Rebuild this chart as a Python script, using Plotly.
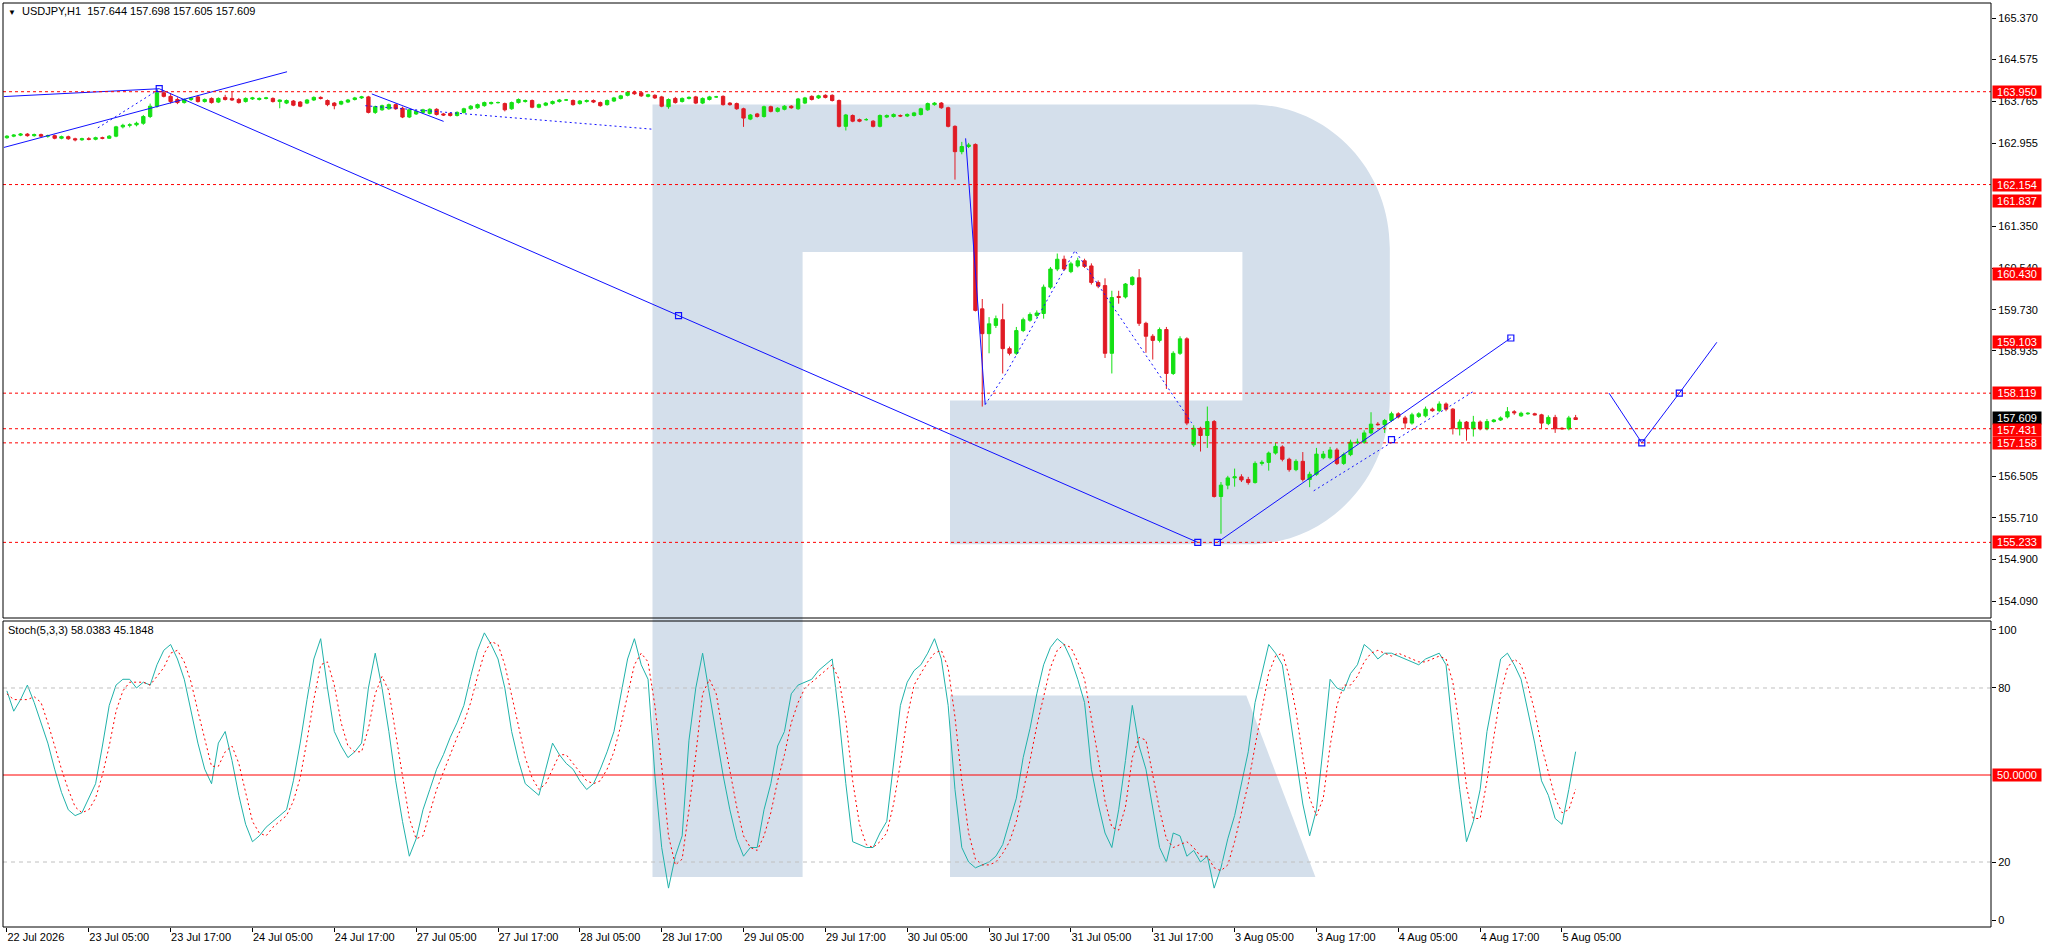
import numpy as np
import plotly.graph_objects as go

# USDJPY H1 with Stochastic(5,3,3), MT4 style

FONT = "Liberation Sans, Arial, sans-serif"
GREEN = "#14e014"
RED = "#e01b24"
BLUE = "#1010ff"
LOGO = "#d4dfeb"

# hourly candles, 22 Jul 17:00 .. 5 Aug 07:00
o = [163.06,163.09,163.11,163.13,163.10,163.12,163.09,163.10,163.05,163.08,
     163.04,163.02,163.04,163.03,163.06,163.05,163.09,163.27,163.30,163.31,
     163.34,163.47,163.67,163.93,163.86,163.80,163.74,163.80,163.85,163.76,
     163.82,163.75,163.84,163.82,163.80,163.76,163.81,163.80,163.82,163.82,
     163.76,163.73,163.77,163.75,163.73,163.79,163.84,163.78,163.73,163.71,
     163.75,163.80,163.83,163.85,163.55,163.60,163.62,163.70,163.63,163.46,
     163.52,163.55,163.53,163.61,163.52,163.53,163.49,163.55,163.62,163.64,
     163.68,163.72,163.74,163.72,163.62,163.74,163.76,163.78,163.65,163.69,
     163.72,163.76,163.79,163.78,163.72,163.76,163.78,163.74,163.70,163.77,
     163.82,163.88,163.94,163.93,163.86,163.88,163.85,163.66,163.82,163.76,
     163.82,163.85,163.73,163.80,163.85,163.86,163.73,163.72,163.62,163.42,
     163.52,163.47,163.66,163.57,163.61,163.67,163.62,163.73,163.86,163.83,
     163.88,163.88,163.78,163.28,163.49,163.41,163.41,163.38,163.28,163.46,
     163.47,163.49,163.48,163.49,163.51,163.60,163.70,163.73,163.64,163.28,
     162.79,162.89,162.93,159.75,159.27,159.43,159.54,158.98,158.89,159.33,
     159.53,159.62,159.66,160.17,160.52,160.71,160.47,160.58,160.68,160.58,
     160.26,160.20,158.89,159.99,159.98,160.22,160.35,159.47,159.22,159.14,
     159.35,158.50,158.89,159.17,157.12,157.44,157.30,157.57,156.12,156.34,
     156.48,156.50,156.45,156.39,156.76,156.78,156.96,157.08,156.84,156.64,
     156.80,156.45,156.55,156.87,156.87,157.02,156.76,156.93,157.16,157.17,
     157.35,157.52,157.51,157.59,157.72,157.64,157.54,157.67,157.68,157.81,
     157.78,157.91,157.81,157.43,157.56,157.43,157.56,157.43,157.57,157.60,
     157.66,157.76,157.68,157.72,157.72,157.70,157.53,157.65,157.44,157.43,
     157.644]
h = [163.11,163.13,163.15,163.15,163.14,163.14,163.12,163.12,163.10,163.10,
     163.06,163.06,163.07,163.08,163.08,163.11,163.29,163.33,163.34,163.37,
     163.50,163.72,164.00,163.97,163.92,163.84,163.82,163.85,163.88,163.82,
     163.84,163.84,163.89,163.95,163.83,163.84,163.85,163.84,163.85,163.84,
     163.80,163.80,163.79,163.77,163.81,163.86,163.86,163.80,163.75,163.78,
     163.81,163.85,163.87,163.87,163.68,163.70,163.72,163.72,163.66,163.62,
     163.59,163.62,163.63,163.63,163.54,163.55,163.57,163.64,163.69,163.72,
     163.76,163.76,163.76,163.74,163.76,163.82,163.80,163.80,163.72,163.75,
     163.78,163.81,163.81,163.80,163.79,163.80,163.80,163.76,163.80,163.85,
     163.89,163.96,163.97,163.95,163.91,163.90,163.87,163.82,163.85,163.84,
     163.86,163.87,163.84,163.87,163.87,163.88,163.75,163.74,163.64,163.52,
     163.54,163.68,163.68,163.65,163.69,163.69,163.83,163.85,163.88,163.89,
     163.90,163.90,163.80,163.52,163.51,163.43,163.44,163.40,163.51,163.51,
     163.53,163.51,163.53,163.56,163.64,163.74,163.75,163.75,163.66,163.30,
     162.98,162.96,162.95,159.94,159.59,159.62,159.85,159.02,159.40,159.58,
     159.68,159.72,160.22,160.56,160.82,160.78,160.66,160.74,160.72,160.63,
     160.30,160.34,160.10,160.10,160.25,160.38,160.52,159.50,159.26,159.39,
     159.40,158.93,159.22,159.20,157.50,157.47,157.86,157.60,156.40,156.52,
     156.66,156.55,156.50,156.80,156.82,156.99,157.16,157.11,156.87,156.84,
     156.98,156.60,157.06,157.00,157.08,157.06,156.97,157.22,157.24,157.40,
     157.75,157.56,157.62,157.76,157.75,157.68,157.74,157.75,157.86,157.84,
     157.96,157.94,157.83,157.61,157.58,157.68,157.59,157.62,157.62,157.67,
     157.85,157.79,157.76,157.75,157.74,157.72,157.69,157.70,157.46,157.68,
     157.698]
l = [163.04,163.07,163.09,163.08,163.08,163.07,163.06,163.03,163.03,163.02,
     162.99,163.00,163.01,163.01,163.03,163.04,163.07,163.24,163.26,163.28,
     163.31,163.44,163.64,163.84,163.72,163.71,163.72,163.77,163.74,163.74,
     163.72,163.73,163.78,163.77,163.72,163.74,163.79,163.78,163.80,163.74,
     163.63,163.71,163.67,163.65,163.71,163.77,163.80,163.67,163.61,163.69,
     163.73,163.78,163.81,163.53,163.52,163.58,163.60,163.60,163.44,163.44,
     163.50,163.53,163.51,163.49,163.48,163.47,163.47,163.53,163.60,163.62,
     163.66,163.70,163.72,163.57,163.60,163.72,163.74,163.63,163.63,163.67,
     163.70,163.74,163.77,163.68,163.70,163.74,163.73,163.66,163.68,163.75,
     163.80,163.86,163.89,163.85,163.84,163.81,163.65,163.62,163.72,163.74,
     163.80,163.71,163.71,163.78,163.83,163.68,163.68,163.60,163.27,163.40,
     163.45,163.45,163.55,163.55,163.59,163.62,163.60,163.71,163.78,163.81,
     163.82,163.76,163.26,163.20,163.36,163.36,163.39,163.26,163.26,163.44,
     163.45,163.46,163.46,163.47,163.49,163.58,163.68,163.62,163.26,162.25,
     162.74,162.86,159.70,157.86,158.89,159.38,158.50,158.85,158.86,159.30,
     159.50,159.58,159.56,160.13,160.48,160.49,160.44,160.55,160.54,160.22,
     160.15,158.80,158.50,159.85,159.95,160.20,159.42,158.90,158.77,159.10,
     158.20,158.47,158.86,157.50,157.08,156.99,157.06,156.10,155.40,156.26,
     156.31,156.40,156.35,156.37,156.72,156.62,156.93,156.80,156.60,156.61,
     156.41,156.30,156.52,156.84,156.84,156.73,156.73,156.90,157.13,157.14,
     157.32,157.49,157.35,157.56,157.63,157.43,157.51,157.64,157.65,157.76,
     157.75,157.77,157.32,157.30,157.20,157.28,157.40,157.40,157.55,157.58,
     157.63,157.70,157.66,157.70,157.69,157.44,157.50,157.35,157.41,157.40,
     157.605]
c = [163.09,163.11,163.13,163.10,163.12,163.09,163.10,163.05,163.08,163.04,
     163.02,163.04,163.03,163.06,163.05,163.09,163.27,163.30,163.31,163.34,
     163.47,163.67,163.93,163.86,163.76,163.74,163.80,163.83,163.76,163.80,
     163.74,163.82,163.80,163.79,163.74,163.82,163.83,163.82,163.83,163.76,
     163.79,163.78,163.69,163.67,163.79,163.84,163.82,163.70,163.68,163.76,
     163.79,163.83,163.85,163.55,163.66,163.68,163.70,163.62,163.46,163.60,
     163.57,163.60,163.61,163.51,163.50,163.49,163.55,163.62,163.67,163.70,
     163.74,163.74,163.74,163.60,163.74,163.80,163.78,163.65,163.70,163.73,
     163.76,163.79,163.79,163.70,163.77,163.78,163.75,163.68,163.78,163.83,
     163.87,163.94,163.91,163.87,163.89,163.83,163.67,163.80,163.74,163.82,
     163.84,163.73,163.82,163.85,163.85,163.70,163.70,163.62,163.44,163.50,
     163.47,163.66,163.57,163.63,163.67,163.64,163.81,163.83,163.80,163.87,
     163.84,163.78,163.28,163.50,163.38,163.38,163.41,163.28,163.49,163.49,
     163.51,163.48,163.51,163.54,163.62,163.72,163.73,163.64,163.28,162.79,
     162.89,162.92,159.72,159.27,159.46,159.56,158.98,158.89,159.33,159.54,
     159.64,159.67,160.17,160.52,160.71,160.52,160.62,160.68,160.57,160.26,
     160.19,158.89,159.97,159.97,160.23,160.36,159.47,159.22,159.14,159.35,
     158.50,158.89,159.17,157.54,157.44,157.30,157.57,156.12,156.34,156.48,
     156.50,156.44,156.39,156.76,156.78,156.96,157.09,156.84,156.64,156.80,
     156.45,156.55,156.94,156.94,157.02,156.76,156.93,157.17,157.17,157.35,
     157.52,157.51,157.59,157.72,157.66,157.54,157.70,157.72,157.81,157.78,
     157.91,157.81,157.44,157.56,157.43,157.56,157.43,157.57,157.60,157.64,
     157.76,157.74,157.73,157.73,157.70,157.54,157.65,157.43,157.43,157.64,
     157.609]

# Stochastic %K (main) and %D (signal)
stoch_k = [79,72,76,81,75,68,61,52,44,38, 36,37,42,47,60,74,81,83,83,80,
           82,81,88,93,95,90,83,72,61,52, 47,61,65,55,43,33,27,29,32,34,
           36,38,48,61,76,90,97,80,65,60, 56,58,61,80,92,80,65,48,34,22,
           28,38,45,52,57,63,68,74,84,93, 99,95,90,80,65,55,47,45,43,52,
           61,57,54,52,48,45,47,52,58,65, 78,90,97,88,83,50,25,11,22,29,
           62,80,92,78,65,50,38,28,22,25, 25,38,47,60,65,78,81,82,83,86,
           88,90,70,47,27,26,25,25,30,34, 55,74,82,86,88,92,97,90,74,45,
           25,20,18,19,20,22,26,34,42,56, 66,78,88,94,97,95,90,83,75,52,
           40,30,25,38,55,74,60,52,38,25, 20,30,29,22,24,20,22,11,18,28,
           36,47,58,75,85,95,92,88,72,56, 40,29,38,60,83,80,79,85,88,95,
           93,90,92,92,91,90,89,88,90,91, 92,88,65,45,27,34,45,65,78,90,
           92,88,83,72,61,48,43,35,33,45, 58.0383]
stoch_d = [78,76,76,76,77,75,68,60,52,45, 39,37,38,42,50,60,72,79,82,82,
           82,81,84,87,92,93,89,82,72,62, 53,53,58,60,54,44,34,30,29,32,
           34,36,41,49,62,76,88,89,81,68, 60,58,58,66,78,84,79,64,49,35,
           28,29,37,45,51,57,63,68,75,84, 92,96,95,88,78,67,56,49,45,47,
           52,57,57,54,51,48,47,48,52,58, 67,78,88,92,89,74,53,29,19,21,
           38,57,78,83,78,64,51,39,29,25, 24,29,37,48,57,68,75,80,82,84,
           86,88,83,69,48,33,26,25,27,30, 40,54,70,81,85,89,92,93,87,70,
           48,30,21,19,19,20,23,27,34,44, 55,67,77,87,93,95,94,89,83,70,
           56,41,32,31,39,56,63,62,50,38, 28,25,26,27,25,22,22,18,17,19,
           27,37,47,60,73,85,91,92,84,72, 56,42,36,42,60,74,81,81,84,89,
           92,93,92,91,92,91,90,89,89,90, 91,90,82,66,46,35,35,48,63,78,
           87,90,88,81,72,60,51,42,37,38, 45.1848]

tick_idx = [0,12,24,36,48,60,72,84,96,108,120,132,144,156,168,180,192,204,216,228]
tick_txt = ["22 Jul 2026","23 Jul 05:00","23 Jul 17:00","24 Jul 05:00","24 Jul 17:00",
            "27 Jul 05:00","27 Jul 17:00","28 Jul 05:00","28 Jul 17:00","29 Jul 05:00",
            "29 Jul 17:00","30 Jul 05:00","30 Jul 17:00","31 Jul 05:00","31 Jul 17:00",
            "3 Aug 05:00","3 Aug 17:00","4 Aug 05:00","4 Aug 17:00","5 Aug 05:00"]
# scale values left visible (162.150, 158.120, 157.315 sit fully under the price tags)
price_ticks = [165.370,164.575,163.765,162.955,161.350,160.540,159.730,
               158.935,156.505,155.710,154.900,154.090]
stoch_ticks = [0,20,80,100]

level_lines = [163.950,162.154,158.119,157.431,157.158,155.233]
red_tags = [163.950,162.154,161.837,160.430,159.103,158.119,157.158,155.233]
tag_431 = 157.431
last_close = 157.609

# analyst drawings (bar index, price)
solid_lines = [
    ([-0.44,22.33],[163.856,164.008]),
    ([-0.44,41.07],[162.872,164.336]),
    ([22.33,174.6],[164.008,155.233]),
    ([53.5,64.03],[163.907,163.376]),
    ([140.56,143.43],[163.048,157.899]),
    ([177.47,220.5],[155.233,159.186]),
    ([234.9,239.7,245.2,250.7],[158.119,157.158,158.119,159.103]),
]
dotted_lines = [
    ([13.33,22.13],[163.250,163.982]),
    ([52.55,94.65],[163.679,163.225]),
    ([143.43,146.5,156.6,173.7],[157.899,158.505,160.877,157.545]),
    ([191.6,215.0],[156.23,158.15]),
]
mark_x = [22.33,98.47,174.6,177.47,203.0,220.5,239.7,245.2]
mark_y = [164.008,159.62,155.233,155.233,157.22,159.186,157.158,158.119]

# page geometry (px)
W, H = 2046, 948
PL, PR, PT, PB = 3, 1991, 3, 927
MAIN_BOT, STOCH_TOP = 618, 621
main_dom = [(PB - MAIN_BOT) / (PB - PT), 1]
stoch_dom = [0, (PB - STOCH_TOP) / (PB - PT)]


def px(xp, yp):
    return (xp - PL) / (PR - PL), (PB - yp) / (PB - PT)


def path(cmds):
    # one command letter per segment, plotly only maps the first pair otherwise
    out = []
    for cmd, pts in cmds:
        if cmd == "C":
            out.append("C " + " ".join("%.5f %.5f" % px(*p) for p in pts))
        else:
            for p in pts:
                out.append("%s %.5f %.5f" % ((cmd,) + px(*p)))
    return " ".join(out) + " Z"


idx = np.arange(len(c))

fig = go.Figure()
fig.add_trace(go.Candlestick(
    x=idx, open=o, high=h, low=l, close=c,
    increasing=dict(line=dict(color=GREEN, width=1), fillcolor=GREEN),
    decreasing=dict(line=dict(color=RED, width=1), fillcolor=RED),
    whiskerwidth=0, showlegend=False, hoverinfo="skip"))

for xs, ys in solid_lines:
    fig.add_trace(go.Scatter(x=xs, y=ys, mode="lines", line=dict(color=BLUE, width=1),
                             showlegend=False, hoverinfo="skip"))
for xs, ys in dotted_lines:
    fig.add_trace(go.Scatter(x=xs, y=ys, mode="lines", line=dict(color=BLUE, width=1, dash="2px,3px"),
                             showlegend=False, hoverinfo="skip"))
fig.add_trace(go.Scatter(x=mark_x, y=mark_y, mode="markers",
                         marker=dict(symbol="square-open", size=6, color=BLUE, line=dict(width=1.2)),
                         showlegend=False, hoverinfo="skip"))

fig.add_trace(go.Scatter(x=idx, y=stoch_k, yaxis="y2", mode="lines",
                         line=dict(color="#20b2aa", width=1), showlegend=False, hoverinfo="skip"))
fig.add_trace(go.Scatter(x=idx, y=stoch_d, yaxis="y2", mode="lines",
                         line=dict(color="#ff0000", width=1, dash="2px,3px"), showlegend=False, hoverinfo="skip"))

shapes = []
# watermark logo
bowl = path([
    ("M", [(652.5, 104.4)]), ("L", [(1250.2, 104.4)]),
    ("C", [(1327.3, 104.4), (1389.8, 168.6), (1389.8, 248.0)]),
    ("L", [(1389.8, 398.0)]),
    ("C", [(1389.8, 478.8), (1327.3, 544.2), (1250.2, 544.2)]),
    ("L", [(950.0, 544.2), (950.0, 400.6), (1242.4, 400.6), (1242.4, 251.9),
           (802.6, 251.9), (802.6, 877.0), (652.5, 877.0)]),
])
leg = path([("M", [(950.0, 695.6)]), ("L", [(1246.3, 695.6), (1315.4, 877.0), (950.0, 877.0)])])
for p in (bowl, leg):
    shapes.append(dict(type="path", path=p, xref="paper", yref="paper", layer="below",
                       fillcolor=LOGO, line=dict(width=0)))

for v in level_lines:
    shapes.append(dict(type="line", xref="paper", x0=0, x1=1, yref="y", y0=v, y1=v,
                       line=dict(color="#ff0000", width=1, dash="3px,3px")))
for v in (80, 20):
    shapes.append(dict(type="line", xref="paper", x0=0, x1=1, yref="y2", y0=v, y1=v,
                       line=dict(color="#c0c0c0", width=1, dash="4px,4px")))
shapes.append(dict(type="line", xref="paper", x0=0, x1=1, yref="y2", y0=50, y1=50,
                   line=dict(color="#ff0000", width=1)))
for dom in (main_dom, stoch_dom):
    shapes.append(dict(type="rect", xref="paper", yref="paper", x0=0, x1=1, y0=dom[0], y1=dom[1],
                       line=dict(color="black", width=1), layer="above"))


def tag(v, bg, yref="y", txt=None, shift=0):
    return dict(x=1, xref="paper", xanchor="left", xshift=1, y=v, yref=yref, yanchor="middle",
                yshift=shift, text=txt or "%.3f" % v, showarrow=False, bgcolor=bg,
                font=dict(color="white", size=11, family=FONT),
                width=46, height=10, borderpad=1, align="center")


ann = [tag(v, "#ff0000") for v in red_tags]
ann.append(tag(last_close, "black", shift=2))
ann.append(tag(tag_431, "#ff0000", shift=-1))
ann.append(tag(50, "#ff0000", "y2", "50.0000"))
ann.append(dict(x=px(6, 0)[0], xref="paper", xanchor="left", y=px(0, 11)[1], yref="paper",
                yanchor="middle", showarrow=False,
                text="<span style='font-size:8px'>▼</span>&nbsp;&nbsp;USDJPY,H1&nbsp;&nbsp;157.644 157.698 157.605 157.609",
                font=dict(color="black", size=11, family=FONT)))
ann.append(dict(x=px(6, 0)[0], xref="paper", xanchor="left", y=px(0, 630)[1], yref="paper",
                yanchor="middle", showarrow=False, text="Stoch(5,3,3) 58.0383 45.1848",
                font=dict(color="black", size=11, family=FONT)))

tickfont = dict(color="black", size=11, family=FONT)
fig.update_layout(
    width=W, height=H, margin=dict(l=PL, r=W - PR, t=PT, b=H - PB),
    paper_bgcolor="white", plot_bgcolor="rgba(0,0,0,0)",
    showlegend=False, hovermode=False,
    shapes=shapes, annotations=ann,
    xaxis=dict(domain=[0, 1], range=[-0.575, 290.9], anchor="y2",
               tickmode="array", tickvals=tick_idx, ticktext=tick_txt,
               ticks="outside", ticklen=4, tickcolor="black", ticklabelposition="outside right",
               tickfont=tickfont, showgrid=False, zeroline=False, showline=False,
               rangeslider=dict(visible=False), fixedrange=True),
    yaxis=dict(domain=main_dom, range=[153.770, 165.666], side="right", anchor="x",
               tickmode="array", tickvals=price_ticks, ticktext=["%.3f" % v for v in price_ticks],
               ticks="outside", ticklen=4, tickcolor="black", tickfont=tickfont,
               showgrid=False, zeroline=False, showline=False, fixedrange=True),
    yaxis2=dict(domain=stoch_dom, range=[-2.41, 103.1], side="right", anchor="x",
                tickmode="array", tickvals=stoch_ticks, ticktext=[str(v) for v in stoch_ticks],
                ticks="outside", ticklen=4, tickcolor="black", tickfont=tickfont,
                showgrid=False, zeroline=False, showline=False, fixedrange=True),
)

fig.write_html("out.html", config={"displayModeBar": False},
               post_script="document.body.style.margin='0';document.body.style.overflow='hidden';")
